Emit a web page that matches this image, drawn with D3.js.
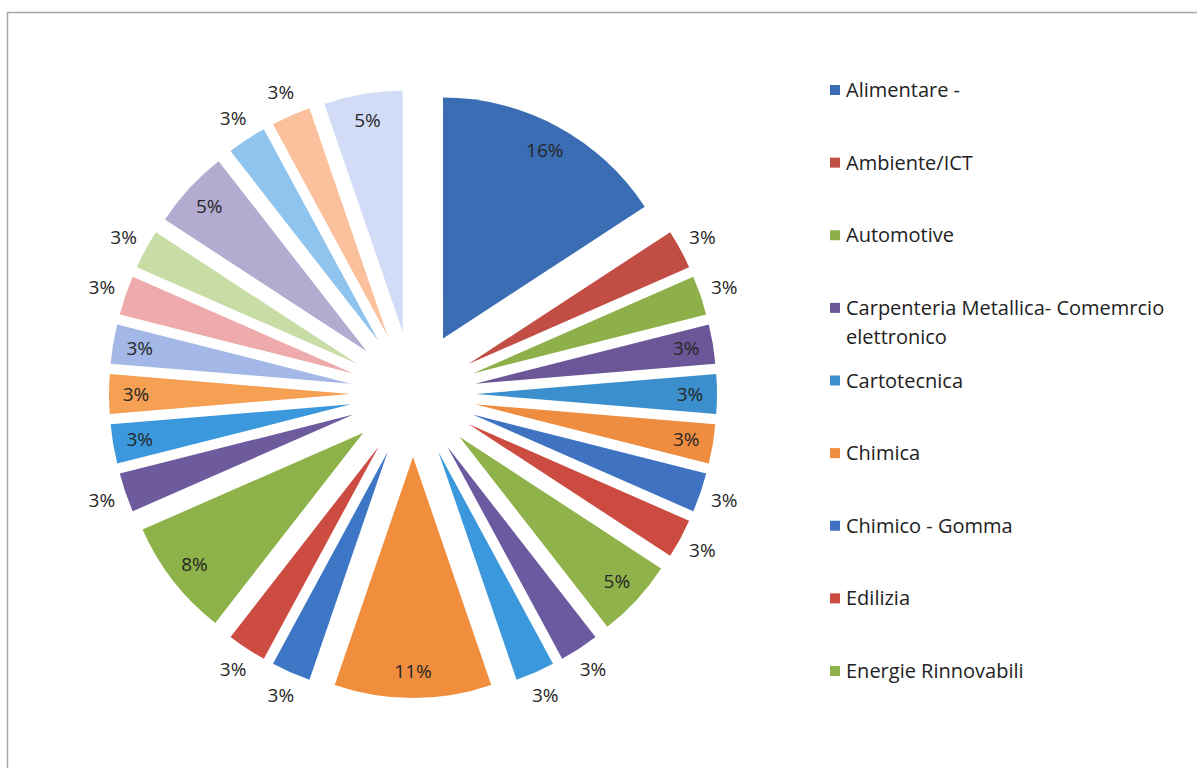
<!DOCTYPE html>
<html>
<head>
<meta charset="utf-8">
<script src="https://cdn.jsdelivr.net/npm/d3@7"></script>
<style>
  body { margin: 0; background: #fff; }
  text { font-family: "Open Sans", "Noto Sans", sans-serif; }
</style>
</head>
<body>
<div id="container"></div>
<script>
// DATA (counts per sector, clockwise from 12 o'clock; legend only shows the first 9 names)
const categories = [
  "Alimentare -",
  "Ambiente/ICT",
  "Automotive",
  "Carpenteria Metallica- Comemrcio elettronico",
  "Cartotecnica",
  "Chimica",
  "Chimico - Gomma",
  "Edilizia",
  "Energie Rinnovabili"
];
const counts = [6, 1, 1, 1, 1, 1, 1, 1, 2, 1, 1, 4, 1, 1, 3, 1, 1, 1, 1, 1, 1, 2, 1, 1, 2];

const palette = [
  "#3b6db4", "#c14d44", "#8db04a", "#6b5698", "#3b8fcc", "#ee8d3f",
  "#3f73c2", "#cc4b40", "#8fb24b", "#6c5aa0", "#3b98dc", "#f08e3e",
  "#3e76c6", "#cc4c42", "#8db249", "#6e5b9e", "#3b98dd", "#f5a052",
  "#a3b8e6", "#efabab", "#c8dca6", "#b3acd0", "#8fc4ef", "#fbc19c", "#d2dcf6"
];

const width = 1197, height = 768;
const cx = 413, cy = 394;
const radius = 241, explode = 63;

const svg = d3.select("#container")
  .append("svg")
  .attr("width", width)
  .attr("height", height);

// chart border
svg.append("rect")
  .attr("x", 7.5).attr("y", 12.5)
  .attr("width", width).attr("height", height)
  .attr("fill", "none")
  .attr("stroke", "#a8a8a8")
  .attr("stroke-width", 1.5);

const total = d3.sum(counts);
const pct = d3.format(".0%");

const pie = d3.pie().sort(null).value(d => d);
const arc = d3.arc().innerRadius(0).outerRadius(radius);
const arcs = pie(counts);

const midAngle = d => (d.startAngle + d.endAngle) / 2;
const offset = (d, r) => [Math.sin(midAngle(d)) * r, -Math.cos(midAngle(d)) * r];

const g = svg.append("g").attr("transform", `translate(${cx}, ${cy})`);

const slices = g.selectAll("g.slice")
  .data(arcs)
  .enter()
  .append("g")
  .attr("class", "slice")
  .attr("transform", d => `translate(${offset(d, explode)})`);

slices.append("path")
  .attr("d", arc)
  .attr("fill", (d, i) => palette[i % palette.length]);

// best fit: label inside if the wedge is wide enough or lies near horizontal
const fitsInside = d => (d.endAngle - d.startAngle) > 0.2 || Math.abs(Math.cos(midAngle(d))) < 0.25;

slices.append("text")
  .attr("transform", d => `translate(${offset(d, fitsInside(d) ? 214 : 266)})`)
  .attr("text-anchor", "middle")
  .attr("dy", "0.35em")
  .style("font-size", "19px")
  .style("fill", "#262626")
  .text(d => pct(d.data / total));

// LEGEND
const legendY = d3.scalePoint()
  .domain(categories)
  .range([90, 671]);

const legend = svg.selectAll("g.legend")
  .data(categories)
  .enter()
  .append("g")
  .attr("class", "legend")
  .attr("transform", d => `translate(830, ${legendY(d)})`);

legend.append("rect")
  .attr("x", 0).attr("y", -5)
  .attr("width", 10).attr("height", 10)
  .attr("fill", (d, i) => palette[i]);

legend.append("text")
  .attr("x", 16)
  .attr("dy", "0.35em")
  .style("font-size", "20px")
  .style("fill", "#222")
  .each(function(d) {
    const text = d3.select(this);
    const words = d.split(" ");
    let line = [];
    let tspan = text.append("tspan").attr("x", 16);
    words.forEach(w => {
      line.push(w);
      tspan.text(line.join(" "));
      if (tspan.node().getComputedTextLength() > 350 && line.length > 1) {
        line.pop();
        tspan.text(line.join(" "));
        line = [w];
        tspan = text.append("tspan").attr("x", 16).attr("dy", "1.45em").text(w);
      }
    });
  });
</script>
</body>
</html>
